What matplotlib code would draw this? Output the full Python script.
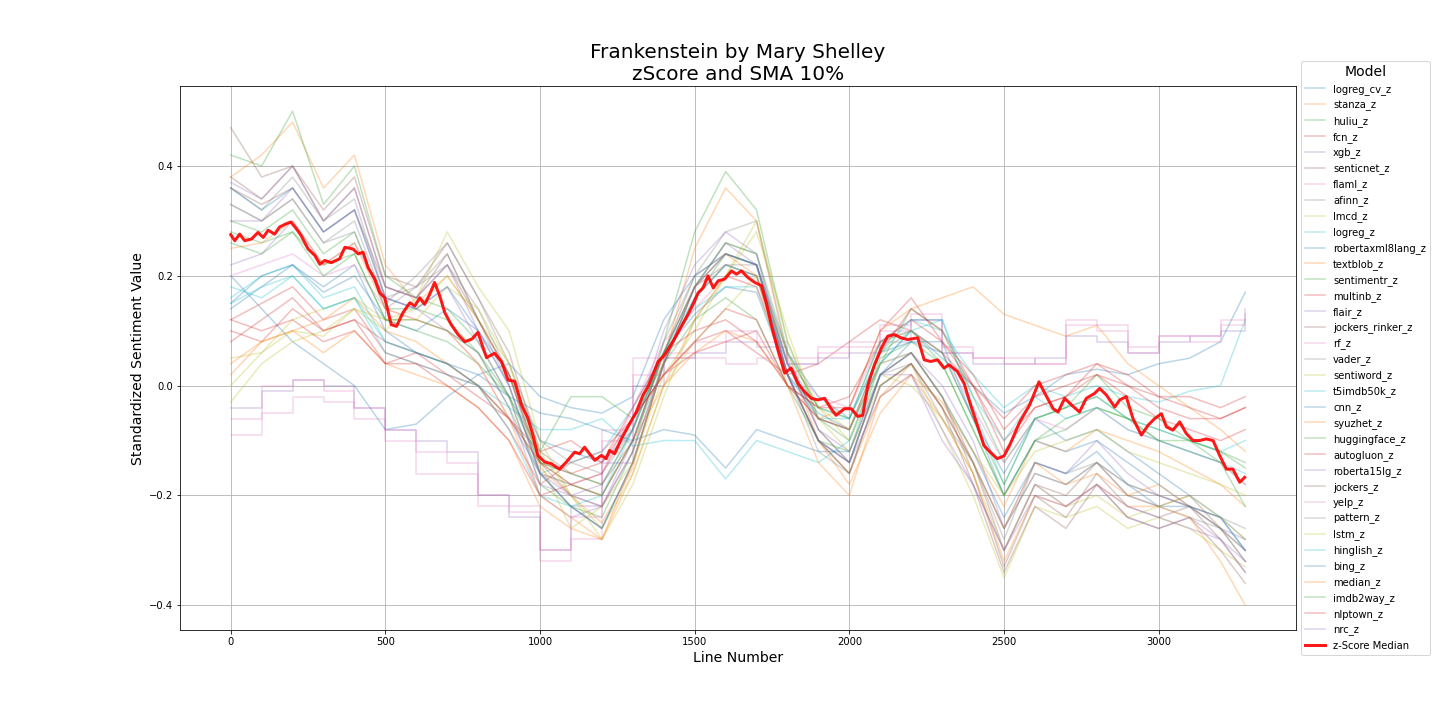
import numpy as np
import matplotlib
matplotlib.use("Agg")
import matplotlib.pyplot as plt

# line positions of the sampled values
line_x = [0, 100, 200, 300, 400, 500, 600, 700, 800, 900, 1000, 1100, 1200, 1300,
          1400, 1500, 1600, 1700, 1800, 1900, 2000, 2100, 2200, 2300, 2400, 2500,
          2600, 2700, 2800, 2900, 3000, 3100, 3200, 3280]

# per-model SMA z-scores (every 100 lines)
logreg_cv_z = [0.15, 0.20, 0.22, 0.17, 0.20, 0.12, 0.10, 0.14, 0.10, 0.02, -0.10, -0.12, -0.14, -0.08, 0.06, 0.13, 0.18, 0.17, 0.02, -0.05, -0.08, 0.04, 0.10, 0.05, 0.00, -0.05, -0.02, 0.02, 0.03, 0.02, 0.04, 0.05, 0.08, 0.17]
stanza_z = [0.38, 0.42, 0.48, 0.36, 0.42, 0.22, 0.15, 0.20, 0.12, 0.02, -0.15, -0.20, -0.25, -0.15, 0.05, 0.25, 0.36, 0.30, 0.05, -0.10, -0.18, -0.05, 0.02, -0.03, -0.12, -0.22, -0.10, -0.12, -0.08, -0.10, -0.12, -0.15, -0.18, -0.22]
huliu_z = [0.42, 0.40, 0.50, 0.33, 0.40, 0.20, 0.16, 0.14, 0.08, -0.02, -0.18, -0.22, -0.24, -0.12, 0.08, 0.28, 0.39, 0.32, 0.08, -0.06, -0.10, 0.05, 0.08, 0.04, -0.08, -0.20, -0.10, -0.08, -0.04, -0.06, -0.08, -0.10, -0.12, -0.15]
fcn_z = [0.12, 0.15, 0.18, 0.12, 0.14, 0.06, 0.04, 0.02, 0.00, -0.08, -0.18, -0.14, -0.12, -0.06, 0.02, 0.08, 0.10, 0.06, 0.02, 0.04, 0.08, 0.12, 0.10, 0.06, 0.00, -0.06, 0.00, 0.02, 0.04, 0.02, -0.02, -0.02, -0.04, -0.02]
xgb_z = [-0.04, -0.01, 0.01, 0.00, -0.04, -0.08, -0.10, -0.12, -0.20, -0.24, -0.30, -0.22, -0.14, 0.00, 0.05, 0.06, 0.08, 0.07, 0.04, 0.05, 0.06, 0.08, 0.12, 0.06, 0.04, 0.04, 0.05, 0.09, 0.08, 0.06, 0.08, 0.09, 0.10, 0.14]
senticnet_z = [0.47, 0.38, 0.40, 0.32, 0.38, 0.20, 0.18, 0.26, 0.16, 0.06, -0.12, -0.16, -0.18, -0.10, 0.06, 0.20, 0.24, 0.22, 0.04, -0.08, -0.14, 0.02, 0.06, -0.02, -0.14, -0.30, -0.18, -0.20, -0.14, -0.20, -0.22, -0.20, -0.26, -0.30]
flaml_z = [-0.09, -0.05, -0.02, -0.03, -0.06, -0.10, -0.16, -0.16, -0.22, -0.23, -0.32, -0.28, -0.10, 0.02, 0.05, 0.05, 0.04, 0.05, 0.05, 0.07, 0.08, 0.10, 0.13, 0.07, 0.05, 0.04, 0.04, 0.11, 0.10, 0.06, 0.09, 0.09, 0.11, 0.13]
afinn_z = [0.36, 0.32, 0.38, 0.30, 0.34, 0.16, 0.18, 0.24, 0.12, 0.00, -0.16, -0.22, -0.26, -0.14, 0.04, 0.18, 0.26, 0.24, 0.02, -0.12, -0.16, 0.00, 0.04, -0.04, -0.14, -0.26, -0.16, -0.18, -0.14, -0.18, -0.20, -0.22, -0.24, -0.26]
lmcd_z = [0.00, 0.06, 0.10, 0.09, 0.14, 0.10, 0.16, 0.28, 0.18, 0.10, -0.10, -0.20, -0.28, -0.18, -0.02, 0.12, 0.20, 0.28, 0.10, -0.06, -0.12, 0.00, 0.04, -0.08, -0.20, -0.35, -0.22, -0.24, -0.22, -0.26, -0.24, -0.26, -0.30, -0.33]
logreg_z = [0.16, 0.20, 0.22, 0.16, 0.18, 0.08, 0.06, 0.04, 0.00, -0.06, -0.16, -0.14, -0.12, -0.04, 0.06, 0.14, 0.18, 0.18, 0.02, -0.06, -0.06, 0.08, 0.12, 0.10, 0.02, -0.04, 0.00, -0.02, 0.00, -0.02, -0.03, -0.01, 0.00, 0.12]
robertaxml8lang_z = [0.20, 0.14, 0.08, 0.04, 0.00, -0.08, -0.07, -0.02, 0.02, 0.04, -0.02, -0.04, -0.05, -0.02, 0.12, 0.20, 0.24, 0.22, 0.06, -0.02, -0.06, 0.06, 0.08, 0.06, -0.06, -0.16, -0.06, -0.10, -0.08, -0.12, -0.16, -0.20, -0.24, -0.30]
textblob_z = [0.02, 0.08, 0.10, 0.12, 0.16, 0.10, 0.08, 0.04, 0.00, -0.06, -0.14, -0.18, -0.20, -0.10, 0.00, 0.06, 0.10, 0.08, 0.00, -0.06, -0.04, 0.10, 0.14, 0.16, 0.18, 0.13, 0.11, 0.09, 0.11, 0.04, 0.00, -0.04, -0.08, -0.12]
sentimentr_z = [0.30, 0.28, 0.32, 0.24, 0.28, 0.14, 0.14, 0.12, 0.06, -0.04, -0.16, -0.18, -0.20, -0.10, 0.04, 0.16, 0.24, 0.22, 0.04, -0.06, -0.08, 0.06, 0.10, 0.04, -0.08, -0.20, -0.10, -0.06, -0.04, -0.06, -0.10, -0.12, -0.14, -0.18]
multinb_z = [0.10, 0.08, 0.14, 0.10, 0.12, 0.08, 0.06, 0.02, -0.02, -0.06, -0.12, -0.10, -0.14, -0.06, 0.02, 0.06, 0.08, 0.10, 0.00, -0.04, -0.02, 0.08, 0.12, 0.08, 0.02, -0.08, -0.02, 0.00, 0.02, 0.00, -0.02, -0.04, -0.06, -0.04]
flair_z = [0.22, 0.24, 0.30, 0.22, 0.26, 0.16, 0.14, 0.10, 0.06, -0.04, -0.20, -0.24, -0.22, -0.10, 0.06, 0.18, 0.26, 0.22, 0.04, -0.06, -0.08, 0.04, 0.06, 0.00, -0.10, -0.26, -0.14, -0.16, -0.10, -0.16, -0.20, -0.22, -0.26, -0.28]
jockers_rinker_z = [0.36, 0.33, 0.36, 0.28, 0.32, 0.18, 0.16, 0.22, 0.12, 0.02, -0.14, -0.18, -0.20, -0.10, 0.06, 0.18, 0.22, 0.20, 0.02, -0.10, -0.14, 0.02, 0.06, -0.02, -0.16, -0.33, -0.20, -0.24, -0.16, -0.22, -0.24, -0.22, -0.28, -0.34]
rf_z = [-0.06, 0.00, 0.01, -0.01, -0.04, -0.08, -0.12, -0.14, -0.20, -0.22, -0.30, -0.24, -0.08, 0.05, 0.06, 0.08, 0.10, 0.08, 0.04, 0.06, 0.07, 0.11, 0.12, 0.06, 0.05, 0.05, 0.04, 0.12, 0.11, 0.07, 0.09, 0.08, 0.12, 0.12]
vader_z = [0.33, 0.30, 0.34, 0.26, 0.30, 0.15, 0.20, 0.26, 0.16, 0.04, -0.10, -0.14, -0.16, -0.08, 0.08, 0.20, 0.28, 0.30, 0.06, -0.08, -0.14, 0.02, 0.04, -0.04, -0.14, -0.28, -0.14, -0.16, -0.14, -0.20, -0.22, -0.24, -0.26, -0.30]
sentiword_z = [0.05, 0.06, 0.12, 0.14, 0.16, 0.12, 0.14, 0.20, 0.12, 0.04, -0.14, -0.26, -0.22, -0.14, 0.02, 0.10, 0.20, 0.30, 0.08, -0.04, -0.10, 0.02, 0.00, -0.06, -0.16, -0.30, -0.18, -0.22, -0.20, -0.24, -0.22, -0.20, -0.24, -0.28]
t5imdb50k_z = [0.18, 0.16, 0.20, 0.14, 0.16, 0.06, 0.04, 0.02, 0.00, -0.04, -0.08, -0.08, -0.06, -0.11, -0.10, -0.10, -0.17, -0.10, -0.12, -0.14, -0.10, 0.04, 0.10, 0.12, -0.04, -0.18, -0.06, -0.04, -0.02, -0.06, -0.08, -0.10, -0.12, -0.10]
cnn_z = [0.14, 0.18, 0.22, 0.18, 0.22, 0.10, 0.06, 0.04, 0.02, -0.02, -0.05, -0.06, -0.08, -0.10, -0.08, -0.09, -0.15, -0.08, -0.10, -0.12, -0.12, 0.02, 0.08, 0.08, -0.06, -0.20, -0.10, -0.12, -0.10, -0.14, -0.18, -0.22, -0.24, -0.30]
syuzhet_z = [0.04, 0.08, 0.10, 0.06, 0.10, 0.04, 0.02, 0.00, -0.04, -0.10, -0.22, -0.26, -0.28, -0.16, 0.00, 0.12, 0.20, 0.18, 0.02, -0.10, -0.16, -0.02, 0.04, -0.04, -0.14, -0.26, -0.14, -0.18, -0.16, -0.20, -0.18, -0.22, -0.26, -0.32]
huggingface_z = [0.28, 0.26, 0.28, 0.22, 0.24, 0.12, 0.10, 0.08, 0.04, -0.02, -0.12, -0.02, -0.02, -0.06, 0.04, 0.12, 0.16, 0.12, 0.00, -0.10, -0.12, 0.04, 0.14, 0.10, -0.02, -0.14, -0.06, -0.04, 0.02, -0.04, -0.06, -0.10, -0.12, -0.14]
autogluon_z = [0.08, 0.12, 0.16, 0.10, 0.12, 0.04, 0.06, 0.04, 0.00, -0.06, -0.14, -0.16, -0.14, -0.04, 0.06, 0.10, 0.12, 0.08, 0.00, -0.06, -0.08, 0.06, 0.14, 0.10, 0.00, -0.10, -0.04, -0.02, 0.02, -0.02, -0.06, -0.08, -0.10, -0.08]
roberta15lg_z = [0.30, 0.30, 0.36, 0.28, 0.32, 0.16, 0.14, 0.18, 0.08, -0.02, -0.18, -0.20, -0.18, -0.08, 0.10, 0.22, 0.28, 0.24, 0.04, -0.08, -0.12, 0.02, 0.02, -0.10, -0.18, -0.30, -0.18, -0.22, -0.18, -0.24, -0.26, -0.24, -0.28, -0.32]
jockers_z = [0.38, 0.34, 0.40, 0.30, 0.36, 0.18, 0.16, 0.24, 0.12, 0.02, -0.14, -0.20, -0.22, -0.12, 0.04, 0.16, 0.22, 0.20, 0.02, -0.10, -0.16, 0.00, 0.04, -0.04, -0.18, -0.34, -0.22, -0.26, -0.18, -0.24, -0.26, -0.24, -0.30, -0.36]
yelp_z = [0.20, 0.22, 0.24, 0.20, 0.22, 0.14, 0.12, 0.10, 0.04, -0.06, -0.16, -0.18, -0.16, -0.04, 0.08, 0.14, 0.20, 0.18, 0.04, -0.02, -0.04, 0.08, 0.10, 0.06, -0.04, -0.14, -0.06, -0.08, -0.04, -0.08, -0.10, -0.12, -0.14, -0.18]
pattern_z = [0.33, 0.30, 0.34, 0.26, 0.28, 0.14, 0.18, 0.22, 0.14, 0.02, -0.16, -0.22, -0.26, -0.14, 0.04, 0.16, 0.22, 0.22, 0.02, -0.10, -0.16, 0.00, 0.04, -0.06, -0.14, -0.26, -0.16, -0.18, -0.14, -0.18, -0.20, -0.22, -0.24, -0.28]
lstm_z = [-0.03, 0.04, 0.08, 0.10, 0.14, 0.12, 0.12, 0.18, 0.14, 0.04, -0.12, -0.20, -0.26, -0.16, 0.00, 0.08, 0.14, 0.20, 0.06, -0.04, -0.08, 0.04, 0.06, -0.02, -0.12, -0.20, -0.12, -0.10, -0.08, -0.12, -0.14, -0.16, -0.18, -0.20]
hinglish_z = [0.15, 0.18, 0.20, 0.14, 0.16, 0.08, 0.06, 0.04, 0.00, -0.08, -0.20, -0.22, -0.20, -0.08, 0.06, 0.16, 0.22, 0.20, 0.04, -0.04, -0.06, 0.06, 0.12, 0.12, -0.02, -0.10, -0.02, -0.06, -0.04, -0.08, -0.10, -0.12, -0.14, -0.16]
bing_z = [0.36, 0.32, 0.36, 0.28, 0.32, 0.16, 0.14, 0.18, 0.10, 0.00, -0.16, -0.22, -0.26, -0.14, 0.04, 0.18, 0.24, 0.22, 0.02, -0.10, -0.14, 0.02, 0.06, -0.02, -0.12, -0.24, -0.14, -0.16, -0.12, -0.18, -0.22, -0.22, -0.26, -0.32]
median_z = [0.25, 0.26, 0.30, 0.22, 0.26, 0.14, 0.12, 0.10, 0.04, -0.06, -0.20, -0.24, -0.28, -0.14, 0.04, 0.18, 0.24, 0.20, 0.00, -0.14, -0.20, -0.02, 0.02, -0.06, -0.16, -0.32, -0.20, -0.22, -0.18, -0.22, -0.22, -0.24, -0.32, -0.40]
imdb2way_z = [0.26, 0.24, 0.28, 0.20, 0.24, 0.12, 0.12, 0.10, 0.06, -0.02, -0.14, -0.16, -0.18, -0.08, 0.06, 0.18, 0.26, 0.24, 0.06, -0.04, -0.06, 0.08, 0.10, 0.06, -0.06, -0.18, -0.06, -0.04, -0.02, -0.06, -0.10, -0.10, -0.14, -0.22]
nlptown_z = [0.12, 0.10, 0.12, 0.08, 0.10, 0.04, 0.04, 0.00, -0.04, -0.10, -0.20, -0.18, -0.16, -0.06, 0.02, 0.08, 0.14, 0.12, 0.00, -0.04, -0.04, 0.10, 0.16, 0.08, 0.00, -0.12, -0.04, -0.02, 0.04, 0.00, -0.04, -0.06, -0.06, -0.04]
nrc_z = [0.37, 0.34, 0.40, 0.30, 0.36, 0.18, 0.16, 0.22, 0.10, 0.00, -0.16, -0.20, -0.22, -0.12, 0.04, 0.18, 0.24, 0.22, 0.02, -0.10, -0.14, -0.02, 0.02, -0.08, -0.18, -0.30, -0.20, -0.22, -0.18, -0.22, -0.24, -0.26, -0.28, -0.34]

# red median line
median_x = [0, 13, 29, 45, 67, 88, 105, 121, 142, 158, 180, 194, 212, 228, 250, 272, 288,
            304, 325, 352, 369, 395, 412, 428, 444, 466, 482, 498, 519, 536, 557, 579, 595,
            611, 627, 643, 659, 676, 692, 713, 735, 757, 780, 799, 827, 853, 875, 897, 918,
            940, 961, 977, 993, 1015, 1036, 1063, 1085, 1112, 1128, 1144, 1160, 1177, 1198,
            1214, 1225, 1241, 1263, 1284, 1311, 1333, 1349, 1365, 1382, 1403, 1430, 1457,
            1479, 1500, 1511, 1527, 1543, 1560, 1576, 1597, 1619, 1635, 1651, 1672, 1694,
            1716, 1732, 1748, 1769, 1791, 1812, 1834, 1855, 1877, 1898, 1920, 1941, 1957,
            1984, 2006, 2027, 2043, 2060, 2081, 2103, 2124, 2146, 2167, 2189, 2221, 2242,
            2263, 2285, 2306, 2322, 2349, 2371, 2392, 2414, 2435, 2457, 2478, 2500, 2518,
            2551, 2583, 2613, 2632, 2659, 2675, 2696, 2718, 2744, 2766, 2793, 2809, 2831,
            2858, 2874, 2895, 2917, 2944, 2966, 2987, 3009, 3025, 3046, 3068, 3089, 3111,
            3132, 3154, 3176, 3197, 3219, 3240, 3262, 3278]
zscore_median = [0.275, 0.264, 0.276, 0.264, 0.267, 0.279, 0.270, 0.283, 0.276, 0.289, 0.295,
                 0.298, 0.286, 0.273, 0.249, 0.237, 0.221, 0.228, 0.224, 0.231, 0.252, 0.249,
                 0.240, 0.243, 0.215, 0.194, 0.169, 0.160, 0.111, 0.108, 0.133, 0.151, 0.145,
                 0.160, 0.148, 0.166, 0.188, 0.163, 0.133, 0.111, 0.093, 0.080, 0.085, 0.097,
                 0.051, 0.059, 0.044, 0.010, 0.008, -0.035, -0.060, -0.090, -0.127, -0.139,
                 -0.142, -0.152, -0.139, -0.121, -0.124, -0.112, -0.124, -0.136, -0.127, -0.133,
                 -0.118, -0.124, -0.097, -0.075, -0.048, -0.017, -0.002, 0.020, 0.044, 0.056,
                 0.081, 0.108, 0.130, 0.154, 0.169, 0.178, 0.200, 0.178, 0.191, 0.194, 0.209,
                 0.203, 0.209, 0.197, 0.188, 0.182, 0.150, 0.110, 0.065, 0.023, 0.032, 0.004,
                 -0.011, -0.023, -0.026, -0.023, -0.042, -0.054, -0.042, -0.042, -0.056, -0.054,
                 0.001, 0.038, 0.068, 0.090, 0.093, 0.087, 0.084, 0.087, 0.047, 0.044, 0.047,
                 0.032, 0.038, 0.026, 0.004, -0.035, -0.072, -0.109, -0.122, -0.133, -0.128,
                 -0.109, -0.066, -0.035, 0.007, -0.014, -0.042, -0.048, -0.023, -0.035, -0.048,
                 -0.023, -0.014, -0.005, -0.017, -0.039, -0.026, -0.020, -0.060, -0.090, -0.072,
                 -0.060, -0.051, -0.075, -0.081, -0.066, -0.087, -0.100, -0.100, -0.097, -0.100,
                 -0.127, -0.152, -0.152, -0.176, -0.167]

model_names = ['logreg_cv_z', 'stanza_z', 'huliu_z', 'fcn_z', 'xgb_z', 'senticnet_z', 'flaml_z',
               'afinn_z', 'lmcd_z', 'logreg_z', 'robertaxml8lang_z', 'textblob_z', 'sentimentr_z',
               'multinb_z', 'flair_z', 'jockers_rinker_z', 'rf_z', 'vader_z', 'sentiword_z',
               't5imdb50k_z', 'cnn_z', 'syuzhet_z', 'huggingface_z', 'autogluon_z', 'roberta15lg_z',
               'jockers_z', 'yelp_z', 'pattern_z', 'lstm_z', 'hinglish_z', 'bing_z', 'median_z',
               'imdb2way_z', 'nlptown_z', 'nrc_z']
model_values = [logreg_cv_z, stanza_z, huliu_z, fcn_z, xgb_z, senticnet_z, flaml_z, afinn_z,
                lmcd_z, logreg_z, robertaxml8lang_z, textblob_z, sentimentr_z, multinb_z, flair_z,
                jockers_rinker_z, rf_z, vader_z, sentiword_z, t5imdb50k_z, cnn_z, syuzhet_z,
                huggingface_z, autogluon_z, roberta15lg_z, jockers_z, yelp_z, pattern_z, lstm_z,
                hinglish_z, bing_z, median_z, imdb2way_z, nlptown_z, nrc_z]
step_models = ['xgb_z', 'flaml_z', 'rf_z']

fig, ax = plt.subplots(figsize=(20, 10), dpi=72)
fig.subplots_adjust(left=0.125, right=0.9, top=0.88, bottom=0.125)

for name, vals in zip(model_names, model_values):
    ds = 'steps-post' if name in step_models else 'default'
    ax.plot(line_x, vals, alpha=0.3, linewidth=1.5, drawstyle=ds, label=name)

ax.plot(median_x, zscore_median, color='red', linewidth=3, alpha=0.9, label='z-Score Median')

ax.set_title('Frankenstein by Mary Shelley\nzScore and SMA 10%', fontsize=20)
ax.set_xlabel('Line Number', fontsize=14)
ax.set_ylabel('Standardized Sentiment Value', fontsize=14)
ax.grid(True)
ax.legend(title='Model', loc='upper left', bbox_to_anchor=(1.0, 1.056), fontsize=10,
          title_fontsize=14)

plt.savefig('out.png', dpi=72)
